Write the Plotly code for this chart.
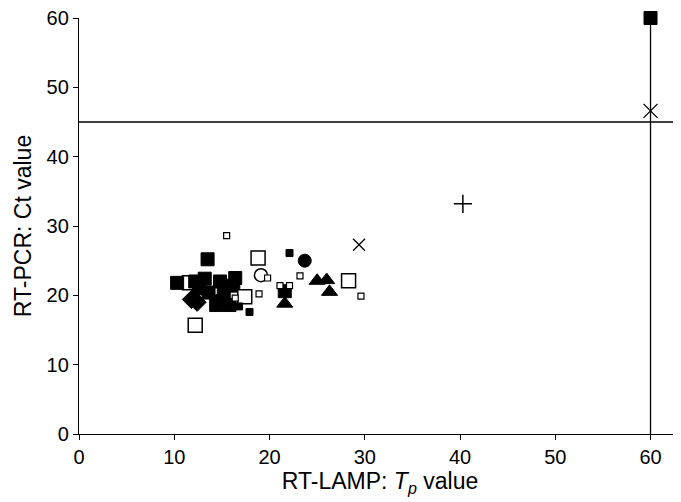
import plotly.graph_objects as go

# Open squares (large) partly hidden behind the black cluster
osq_back_x = [11.6]
osq_back_y = [21.8]
# Black squares (large)
bsq_x = [60, 10.3, 13.5, 13.2, 14.8, 16.4, 12.6, 13.6, 14.4, 15.8, 15.2, 16.2, 21.6, 12.2]
bsq_y = [60, 21.8, 25.2, 22.4, 22.0, 22.5, 21.0, 20.4, 18.6, 18.6, 20.6, 21.4, 20.6, 22.0]
# Open squares (large)
osq_x = [12.2, 17.4, 18.8, 28.3]
osq_y = [15.7, 19.8, 25.4, 22.1]
# Small open squares
sosq_x = [15.5, 16.4, 18.9, 19.8, 21.1, 22.1, 23.2, 29.6]
sosq_y = [28.6, 19.6, 20.2, 22.5, 21.4, 21.4, 22.8, 19.9]
# Small black squares
sbsq_x = [17.9, 22.1, 16.8]
sbsq_y = [17.6, 26.1, 18.4]
# Black diamonds
dia_x = [11.8, 12.4]
dia_y = [19.4, 19.0]
# Black circles
bcir_x = [23.7, 14.6, 15.6]
bcir_y = [25.0, 19.2, 18.8]
# Open circle
ocir_x = [19.1]
ocir_y = [22.9]
# Black triangles
tri_x = [21.6, 25.0, 26.0, 26.3]
tri_y = [18.8, 22.1, 22.2, 20.5]
# Cross marks
x_x = [29.4]
x_y = [27.3]
plus_x = [40.3]
plus_y = [33.2]
star_x = [60]
star_y = [46.6]

xticks = [0, 10, 20, 30, 40, 50, 60]
yticks = [0, 10, 20, 30, 40, 50, 60]
cutoff_ct = 45
cutoff_tp = 60

fig = go.Figure()

def add(x, y, symbol, size, color="black", line_color="black", lw=1.5):
    fig.add_trace(go.Scatter(
        x=x, y=y, mode="markers", cliponaxis=False, showlegend=False,
        marker=dict(symbol=symbol, size=size, color=color,
                    line=dict(color=line_color, width=lw))))

add(osq_back_x, osq_back_y, "square", 14, "white", "black", 1.5)
add(bsq_x, bsq_y, "square", 13, "black", "black", 1)
add(osq_x, osq_y, "square", 14, "white", "black", 1.5)
add(dia_x, dia_y, "diamond", 14, "black", "black", 1)
add(bcir_x, bcir_y, "circle", 13, "black", "black", 1)
add(ocir_x, ocir_y, "circle", 13, "white", "black", 1.5)
add(tri_x, tri_y, "triangle-up", 14, "black", "black", 1)
add(sosq_x, sosq_y, "square", 6, "white", "black", 1.2)
add(sbsq_x, sbsq_y, "square", 7, "black", "black", 1)
add(x_x, x_y, "x-thin-open", 12, "black", "black", 1.3)
add(plus_x, plus_y, "cross-thin-open", 13, "black", "black", 1.5)
add(star_x, star_y, "x-thin-open", 14, "black", "black", 1.3)

fig.add_shape(type="line", xref="paper", yref="y", x0=0, x1=1,
              y0=cutoff_ct, y1=cutoff_ct, line=dict(color="black", width=1.3), layer="below")
fig.add_shape(type="line", xref="x", yref="y", x0=cutoff_tp, x1=cutoff_tp,
              y0=0, y1=60, line=dict(color="black", width=1.3), layer="below")

# The page body has an 8px margin, so the figure is offset by (8, 8)
font_family = "Liberation Sans, Arial, sans-serif"
fig.update_layout(
    width=673, height=494,
    margin=dict(l=71, r=0, t=10, b=68),
    plot_bgcolor="white", paper_bgcolor="white",
    font=dict(family=font_family, color="black", size=20),
    xaxis=dict(range=[0, 63.2], tickvals=xticks, ticks="outside", ticklen=5,
               tickcolor="black", showline=True, linecolor="black", linewidth=1.3,
               showgrid=False, zeroline=False, tickfont=dict(size=20), automargin=False,
               ticklabeloverflow="allow",
               title=dict(text="RT-LAMP: <i>T<sub>p</sub></i> value", font=dict(size=23), standoff=4)),
    yaxis=dict(range=[0, 60], tickvals=yticks, ticks="outside", ticklen=5,
               tickcolor="black", showline=True, linecolor="black", linewidth=1.3,
               showgrid=False, zeroline=False, tickfont=dict(size=20), automargin=False,
               ticklabeloverflow="allow",
               title=dict(text="RT-PCR: Ct value", font=dict(size=23), standoff=8)),
)

fig.write_html("out.html")
